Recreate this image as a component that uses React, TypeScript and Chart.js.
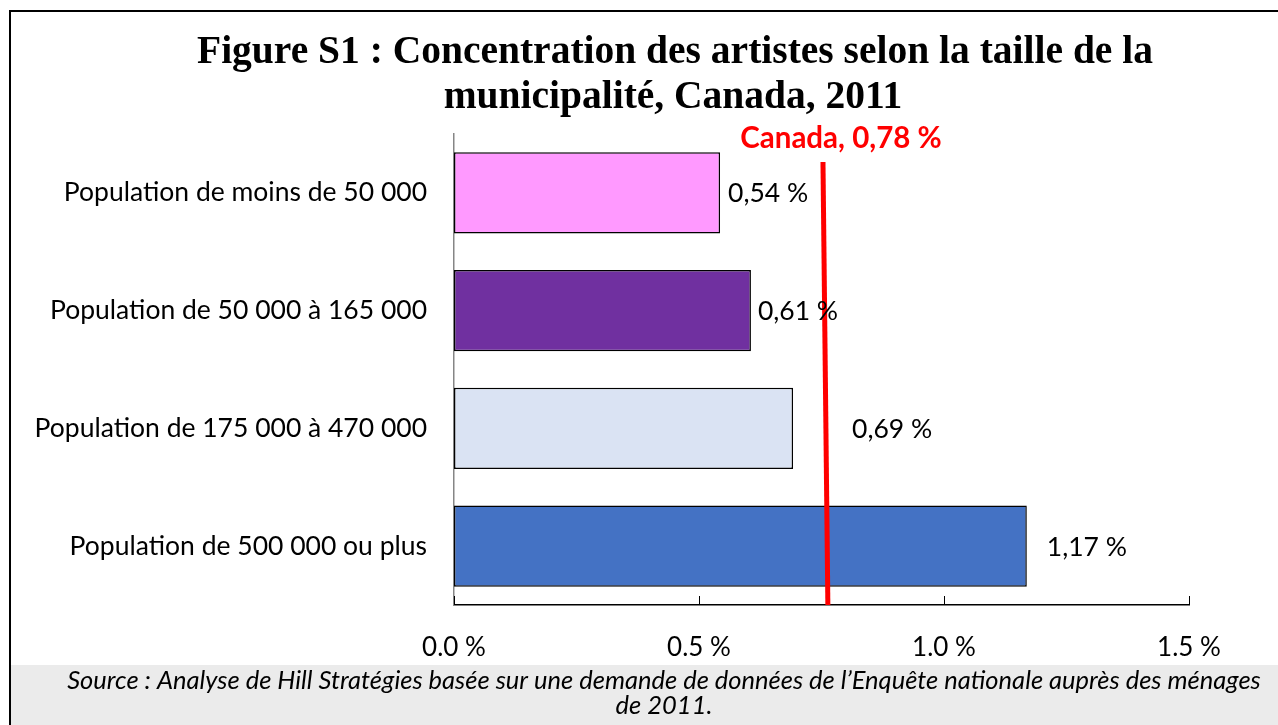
import React, { useEffect, useRef } from "react";
import { Chart, registerables } from "chart.js";

Chart.register(...registerables);

const categories = [
  "Population de moins de 50 000",
  "Population de 50 000 à 165 000",
  "Population de 175 000 à 470 000",
  "Population de 500 000 ou plus",
];
const values = [0.543, 0.606, 0.692, 1.169];
const valueLabels = ["0,54 %", "0,61 %", "0,69 %", "1,17 %"];
const barColors = ["#FF99FF", "#7030A0", "#DAE3F3", "#4472C4"];
const xTicks = [0, 0.5, 1.0, 1.5];
const canadaLabel = "Canada, 0,78 %";
// red reference line as drawn in the picture (slightly slanted): top and bottom value
const canadaLineEnds = [0.753, 0.763];
const titleLines = [
  "Figure S1 : Concentration des artistes selon la taille de la",
  "municipalité, Canada, 2011",
];
const sourceLines = [
  "Source : Analyse de Hill Stratégies basée sur une demande de données de l’Enquête nationale auprès des ménages",
  "de 2011.",
];

// style offsets for value labels (px to the right of bar end)
const labelOffsets = [8, 7, 59, 20];

const SANS = "Lato, 'Noto Sans', sans-serif";
const SERIF = "'Liberation Serif', 'DejaVu Serif', serif";

export default function App() {
  const ref = useRef<HTMLCanvasElement | null>(null);

  useEffect(() => {
    document.body.style.margin = "0";
    const canvas = ref.current!;
    const decor = {
      id: "decor",
      beforeDraw(chart: any) {
        const ctx = chart.ctx;
        ctx.save();
        ctx.fillStyle = "#ffffff";
        ctx.fillRect(0, 0, 1278, 725);
        // source box
        ctx.fillStyle = "#EBEBEB";
        ctx.fillRect(11, 665, 1267, 60);
        // frame
        ctx.strokeStyle = "#000";
        ctx.lineWidth = 2;
        ctx.beginPath();
        ctx.moveTo(10, 725);
        ctx.lineTo(10, 11);
        ctx.lineTo(1280, 11);
        ctx.stroke();
        // title
        ctx.fillStyle = "#000";
        ctx.font = `bold 39.5px ${SERIF}`;
        ctx.textAlign = "center";
        ctx.textBaseline = "middle";
        ctx.fillText(titleLines[0], 675, 53);
        ctx.fillText(titleLines[1], 673, 98);
        // source
        ctx.font = `italic 25.5px ${SANS}`;
        ctx.fillText(sourceLines[0], 664, 681);
        ctx.fillText(sourceLines[1], 664, 706);
        ctx.restore();
      },
      afterDatasetsDraw(chart: any) {
        const ctx = chart.ctx;
        const xs = chart.scales.x;
        const ys = chart.scales.y;
        const area = chart.chartArea;
        ctx.save();
        // x tick marks (inside)
        ctx.strokeStyle = "#000";
        ctx.lineWidth = 1;
        xTicks.forEach((t) => {
          const px = Math.round(xs.getPixelForValue(t)) + 0.5;
          ctx.beginPath();
          ctx.moveTo(px, area.bottom);
          ctx.lineTo(px, area.bottom - 9);
          ctx.stroke();
        });
        // Canada line
        ctx.strokeStyle = "#FF0000";
        ctx.lineWidth = 5;
        ctx.beginPath();
        ctx.moveTo(xs.getPixelForValue(canadaLineEnds[0]), area.top + 28);
        ctx.lineTo(xs.getPixelForValue(canadaLineEnds[1]), area.bottom);
        ctx.stroke();
        ctx.fillStyle = "#FF0000";
        ctx.font = `bold 29.5px ${SANS}`;
        ctx.textAlign = "center";
        ctx.textBaseline = "middle";
        ctx.fillText(canadaLabel, 841, area.top + 4);
        // value labels
        ctx.fillStyle = "#000";
        ctx.font = `26.5px ${SANS}`;
        ctx.textAlign = "left";
        values.forEach((v, i) => {
          const px = xs.getPixelForValue(v) + labelOffsets[i];
          const py = ys.getPixelForValue(i);
          ctx.fillText(valueLabels[i], px, py + 1);
        });
        ctx.restore();
      },
    };

    const chart = new Chart(canvas, {
      type: "bar",
      data: {
        labels: categories,
        datasets: [
          {
            data: values,
            backgroundColor: barColors,
            borderColor: "#000",
            borderWidth: 1.5,
            borderSkipped: false,
            barPercentage: 1,
            categoryPercentage: 0.688,
          },
        ],
      },
      options: {
        indexAxis: "y",
        responsive: false,
        animation: false,
        devicePixelRatio: 1,
        layout: { padding: { top: 134, right: 89, bottom: 0, left: 0 } },
        plugins: {
          legend: { display: false },
          tooltip: { enabled: false },
          title: { display: false },
        },
        scales: {
          x: {
            min: 0,
            max: 1.5,
            afterBuildTicks: (s: any) => {
              s.ticks = xTicks.map((v) => ({ value: v }));
            },
            afterFit: (s: any) => {
              s.height = 120;
            },
            grid: { display: false, drawTicks: false },
            border: { display: true, color: "#000", width: 1.5 },
            ticks: {
              padding: 27,
              color: "#000",
              font: { family: SANS, size: 26 },
              callback: (v: any) => Number(v).toFixed(1) + " %",
              maxRotation: 0,
            },
          },
          y: {
            afterFit: (s: any) => {
              s.width = 454;
            },
            grid: { display: false, drawTicks: false },
            border: { display: true, color: "#868686", width: 1.5 },
            ticks: {
              padding: 27,
              color: "#000",
              font: { family: SANS, size: 26.5 },
            },
          },
        },
      },
      plugins: [decor],
    });
    return () => chart.destroy();
  }, []);

  return (
    <div style={{ position: "fixed", left: 0, top: 0, width: 1278, height: 725 }}>
      <canvas ref={ref} width={1278} height={725} style={{ display: "block" }} />
    </div>
  );
}
